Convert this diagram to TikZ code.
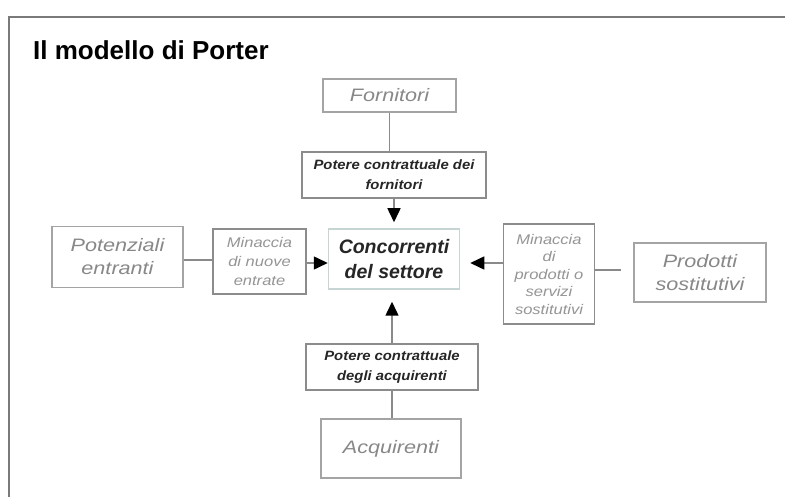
\documentclass[tikz,border=0pt]{standalone}
\usepackage{fontspec}
\setmainfont{Liberation Sans}
\newfontfamily\boxfont[FakeStretch=1.2]{Liberation Sans}
\newfontfamily\potfont[FakeStretch=1.1]{Liberation Sans}
\newfontfamily\minfont[FakeStretch=1.18]{Liberation Sans}
\usetikzlibrary{arrows.meta}
\definecolor{framegray}{HTML}{7A7A7A}
\definecolor{boxgray}{HTML}{A4A4A4}
\definecolor{txtgray}{HTML}{888888}
\definecolor{mingray}{HTML}{959595}
\definecolor{centerborder}{HTML}{C6D4D4}
\definecolor{linegray}{HTML}{8A8A8A}
\definecolor{potborder}{HTML}{8C8C8C}
\tikzset{
  outerbox/.style={draw=boxgray, line width=1.5pt, fill=white, align=center, inner sep=0pt,
    font=\boxfont\itshape\fontsize{18}{23}\selectfont, text=txtgray},
  potbox/.style={draw=potborder, line width=1.3pt, fill=white, align=center, inner sep=0pt,
    font=\potfont\bfseries\itshape\fontsize{13.5}{20}\selectfont, text=black!85},
  minbox/.style={draw=potborder, line width=1.3pt, fill=white, align=center, inner sep=0pt,
    font=\minfont\itshape\fontsize{14}{19}\selectfont, text=mingray},
  centerbox/.style={draw=centerborder, line width=1.5pt, fill=white, align=center, inner sep=0pt,
    font=\bfseries\itshape\fontsize{19.5}{25}\selectfont, text=black!85},
  conn/.style={draw=linegray, line width=1.5pt},
  arr/.style={draw=linegray, line width=1.5pt, -{Triangle[length=14pt,width=13pt,black]}},
}
\begin{document}
\begin{tikzpicture}[x=1pt,y=-1pt]
\useasboundingbox (0,0) rectangle (785,497);
\fill[white] (0,0) rectangle (785,497);
% frame
\draw[framegray, line width=2pt] (9,497) -- (9,17) -- (785,17);
% title
\node[anchor=west, font=\bfseries\fontsize{26}{30}\selectfont, inner sep=0pt] (title) at (33,50) {Il modello di Porter};
% boxes
\node[outerbox, minimum width=133pt, minimum height=33pt] (forn) at (389.5,95.5) {Fornitori};
\node[potbox, minimum width=184pt, minimum height=46pt] (potf) at (394,175) {Potere contrattuale dei\\fornitori};
\node[centerbox, minimum width=131pt, minimum height=60pt] (conc) at (394,259) {Concorrenti\\del settore};
\node[outerbox, minimum width=131pt, minimum height=61pt] (pot) at (117.5,257) {Potenziali\\entranti};
\node[minbox, minimum width=93pt, minimum height=65pt] (minn) at (259.5,261.5) {Minaccia\\di nuove\\entrate};
\node[minbox, minimum width=91pt, minimum height=100pt, font=\minfont\itshape\fontsize{14}{17.5}\selectfont] (minp) at (549,274) {Minaccia\\di\\prodotti o\\servizi\\sostitutivi};
\node[outerbox, minimum width=132pt, minimum height=59pt] (prod) at (700,272.5) {Prodotti\\sostitutivi};
\node[potbox, minimum width=172pt, minimum height=46pt] (pota) at (392,367) {Potere contrattuale\\degli acquirenti};
\node[outerbox, minimum width=140pt, minimum height=59pt] (acq) at (391,448.5) {Acquirenti};
% connectors
\draw[conn] (forn.south) -- (forn.south |- potf.north);
\draw[arr, shorten >=6pt] (potf.south) -- (potf.south |- conc.north);
\draw[conn] (pot.east |- 0,260) -- (minn.west |- 0,260);
\draw[arr, shorten >=0pt] (minn.east |- 0,263) -- (conc.west |- 0,263);
\draw[arr, shorten >=10pt] (minp.west |- 0,263) -- (conc.east |- 0,263);
\draw[conn, shorten >=12pt] (minp.east |- 0,270) -- (prod.west |- 0,270);
\draw[arr, shorten >=12pt] (pota.north) -- (pota.north |- conc.south);
\draw[conn] (pota.south) -- (pota.south |- acq.north);
\end{tikzpicture}
\end{document}
